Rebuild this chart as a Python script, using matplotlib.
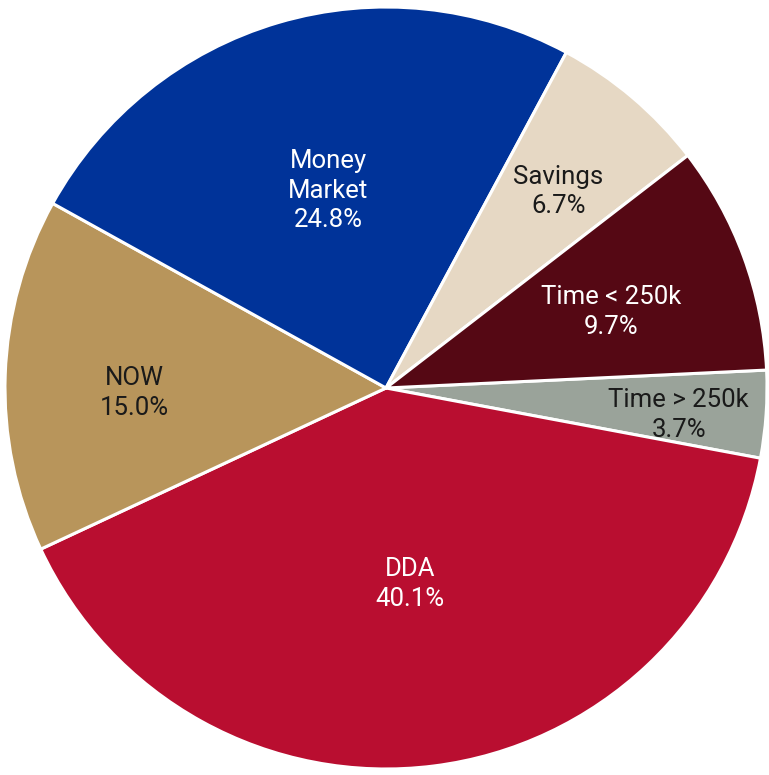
import numpy as np
import matplotlib.pyplot as plt

# deposit mix, listed clockwise starting just above 3 o'clock
labels = ["Time > 250k", "DDA", "NOW", "Money\nMarket", "Savings", "Time < 250k"]
shares = [3.7, 40.1, 15.0, 24.8, 6.7, 9.7]
slice_colors = ["#9AA39A", "#B90E30", "#B8955B", "#003399", "#E6D8C4", "#550814"]
text_colors = ["#1a1a1a", "white", "#1a1a1a", "white", "#1a1a1a", "white"]
label_radius = [0.77, 0.50, 0.66, 0.54, 0.70, 0.63]

plt.rcParams['font.family'] = ['Roboto', 'DejaVu Sans']

fig = plt.figure(figsize=(7.69, 7.75), dpi=100)
ax = fig.add_axes([0, 0, 1, 1])

wedges, _ = ax.pie(shares, colors=slice_colors, startangle=2.7, counterclock=False,
                   radius=1.0, labels=None,
                   wedgeprops=dict(edgecolor="white", linewidth=2.2))

for w, lab, val, tc, r in zip(wedges, labels, shares, text_colors, label_radius):
    ang = np.deg2rad((w.theta1 + w.theta2) / 2)
    # Money Market sits a little higher than the rest
    dy = 0 if "Money" in lab else -5
    if lab == "NOW":
        dy = -10
    ax.annotate(f"{lab}\n{val:.1f}%", (r * np.cos(ang), r * np.sin(ang)),
                xytext=(0, dy), textcoords="offset points",
                ha="center", va="center", color=tc, fontsize=18.5, linespacing=1.3)

ax.set_aspect("auto")
ax.set_xlim(-386 / 381, 383 / 381)
ax.set_ylim(-387 / 381, 388 / 381)
ax.axis("off")

fig.savefig("out.png", dpi=100, facecolor="white")
